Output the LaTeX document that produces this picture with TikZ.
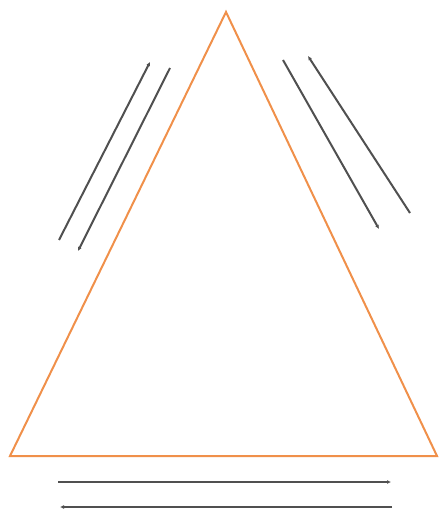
\documentclass[tikz,border=0pt]{standalone}
\usetikzlibrary{arrows.meta}
\begin{document}
\begin{tikzpicture}[x=1pt, y=-1pt]
    \definecolor{edgeColour}{HTML}{F0904A}
    \definecolor{arrowColour}{HTML}{505050}
    \tikzset{flow/.style={arrowColour, line width=2pt, -{Latex[length=4pt,width=4pt]}}}

    \useasboundingbox (0,0) rectangle (439,510);

    % Triangle vertices
    \coordinate (T) at (226,12);
    \coordinate (L) at (10,456);
    \coordinate (R) at (437,456);

    \draw[edgeColour, line width=2pt, line join=miter] (T) -- (L) -- (R) -- cycle;

    % Arrows beside the left side
    \coordinate (la1) at (59,240);
    \coordinate (la2) at (150,62);
    \coordinate (lb1) at (170,68);
    \coordinate (lb2) at (78,251);
    \draw[flow] (la1) -- (la2);
    \draw[flow] (lb1) -- (lb2);

    % Arrows beside the right side
    \coordinate (ra1) at (283,60);
    \coordinate (ra2) at (379,229);
    \coordinate (rb1) at (410,213);
    \coordinate (rb2) at (308,56);
    \draw[flow] (ra1) -- (ra2);
    \draw[flow] (rb1) -- (rb2);

    % Arrows below the base
    \coordinate (ba1) at (58,482);
    \coordinate (ba2) at (391,482);
    \coordinate (bb1) at (392,507);
    \coordinate (bb2) at (60,507);
    \draw[flow] (ba1) -- (ba2);
    \draw[flow] (bb1) -- (bb2);

\end{tikzpicture}
\end{document}
